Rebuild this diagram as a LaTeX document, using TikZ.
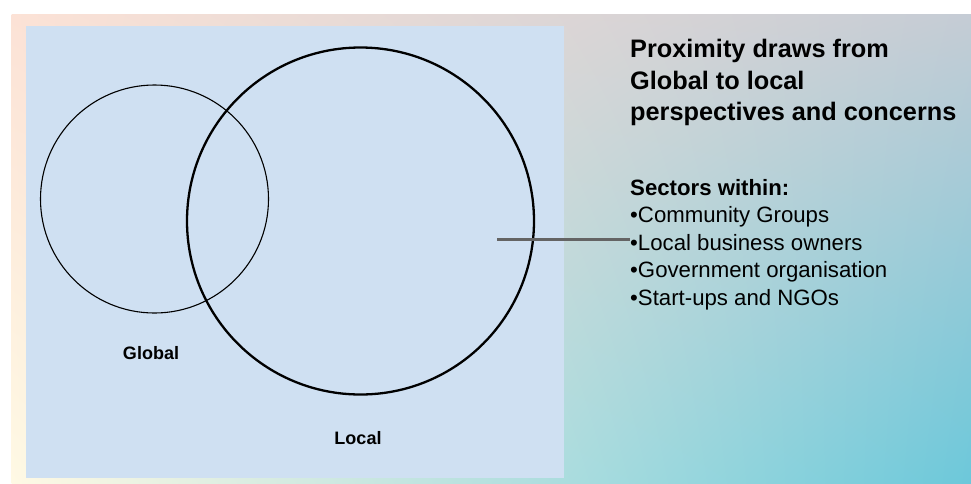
\documentclass[tikz,border=0pt]{standalone}
\usepackage{fontspec}
\setmainfont{Liberation Sans}
\usetikzlibrary{positioning,shadings}

\definecolor{panelblue}{RGB}{207,224,242}
\definecolor{bgpeach}{RGB}{252,226,214}
\definecolor{bggrey}{RGB}{197,204,213}
\definecolor{bgcream}{RGB}{255,249,228}
\definecolor{bgcyan}{RGB}{108,200,218}
\definecolor{pointergrey}{RGB}{100,100,100}

\begin{document}
\begin{tikzpicture}[x=1pt,y=-1pt,
  setlabel/.style={font=\fontsize{18}{20}\selectfont\bfseries, inner sep=0pt},
  heading/.style={font=\fontsize{25.3}{31.7}\selectfont\bfseries, align=left, anchor=north west, inner sep=0pt},
  itemlist/.style={font=\fontsize{22.2}{27.5}\selectfont, align=left, anchor=north west, inner sep=0pt}]
  \useasboundingbox (0,0) rectangle (971,483);

  % background
  \shade[upper left=bgpeach, upper right=bggrey, lower left=bgcream, lower right=bgcyan]
    (11.5,14) rectangle (971,483);
  \fill[panelblue] (26,26) rectangle (564,478);

  % sets
  \node[draw, circle, line width=1.1pt, minimum size=228pt, inner sep=0pt] (global) at (154.5,199) {};
  \node[draw, circle, line width=2.3pt, minimum size=347pt, inner sep=0pt] (local) at (360.5,221) {};
  \node[setlabel] (globallbl) at (151,353) {Global};
  \node[setlabel] (locallbl) at (358,438) {Local};

  % text
  \node[heading] (title) at (630,39) {Proximity draws from\\Global to local\\perspectives and concerns};
  \node[itemlist] (sectors) at (630,179) {\textbf{Sectors within:}\\•Community Groups\\•Local business owners\\•Government organisation\\•Start-ups and NGOs};

  % pointer
  \coordinate (pin) at (497,239.5);
  \draw[pointergrey, line width=2.3pt] (pin) -- (pin -| sectors.west);
\end{tikzpicture}
\end{document}
